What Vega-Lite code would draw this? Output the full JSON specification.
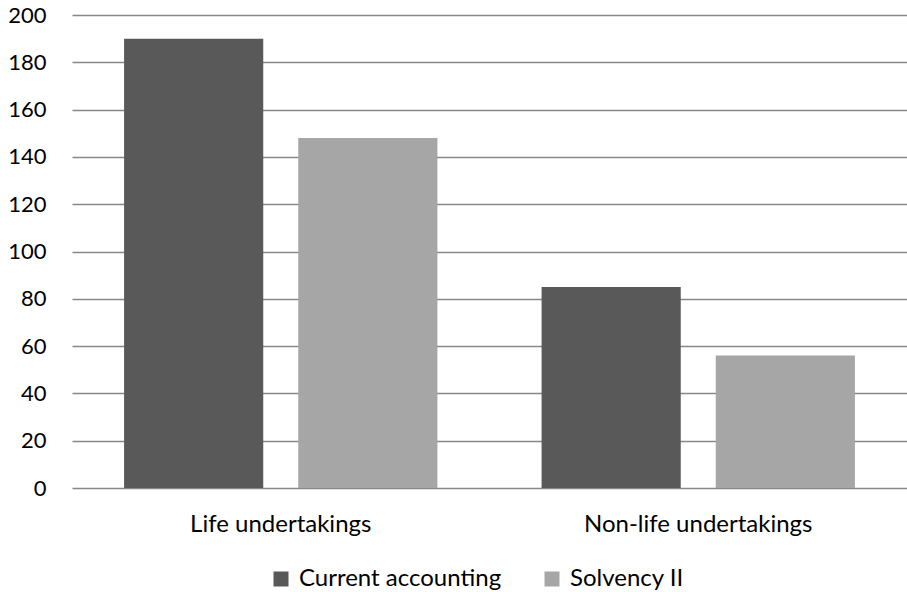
{
  "$schema": "https://vega.github.io/schema/vega-lite/v6.json",
  "autosize": "none",
  "padding": {"left": 72, "top": 15, "right": 0, "bottom": 104},
  "width": 835,
  "height": 473,
  "background": "white",
  "data": {
    "values": [
      {"category": "Life undertakings", "series": "Current accounting", "value": 190},
      {"category": "Life undertakings", "series": "Solvency II", "value": 148},
      {"category": "Non-life undertakings", "series": "Current accounting", "value": 85},
      {"category": "Non-life undertakings", "series": "Solvency II", "value": 56}
    ]
  },
  "mark": {"type": "bar"},
  "encoding": {
    "x": {
      "field": "category",
      "type": "nominal",
      "sort": ["Life undertakings", "Non-life undertakings"],
      "scale": {"paddingInner": 0, "paddingOuter": 0},
      "axis": {
        "title": null,
        "ticks": false,
        "domain": false,
        "labelAngle": 0,
        "labelBaseline": "alphabetic",
        "labelPadding": 43,
        "labelFont": "Lato",
        "labelFontSize": 24,
        "labelColor": "#000000",
        "labelLimit": 400
      }
    },
    "xOffset": {
      "field": "series",
      "type": "nominal",
      "sort": ["Current accounting", "Solvency II"],
      "scale": {"paddingInner": 0.201, "paddingOuter": 0.299}
    },
    "y": {
      "field": "value",
      "type": "quantitative",
      "scale": {"domain": [0, 200], "nice": false},
      "axis": {
        "title": null,
        "values": [0, 20, 40, 60, 80, 100, 120, 140, 160, 180, 200],
        "ticks": false,
        "domain": false,
        "grid": true,
        "gridColor": "#888888",
        "gridWidth": 1.5,
        "labelPadding": 26,
        "labelFont": "Lato",
        "labelFontSize": 22,
        "labelColor": "#000000"
      }
    },
    "color": {
      "field": "series",
      "type": "nominal",
      "sort": ["Current accounting", "Solvency II"],
      "scale": {"domain": ["Current accounting", "Solvency II"], "range": ["#595959", "#a6a6a6"]},
      "legend": {
        "title": null,
        "orient": "none",
        "direction": "horizontal",
        "legendX": 197,
        "legendY": 552,
        "symbolType": "square",
        "symbolSize": 225,
        "symbolStrokeWidth": 0,
        "labelOffset": 6,
        "columnPadding": 38,
        "labelFont": "Lato",
        "labelFontSize": 24,
        "labelColor": "#000000",
        "labelLimit": 400
      }
    }
  },
  "config": {
    "view": {"stroke": null}
  }
}
